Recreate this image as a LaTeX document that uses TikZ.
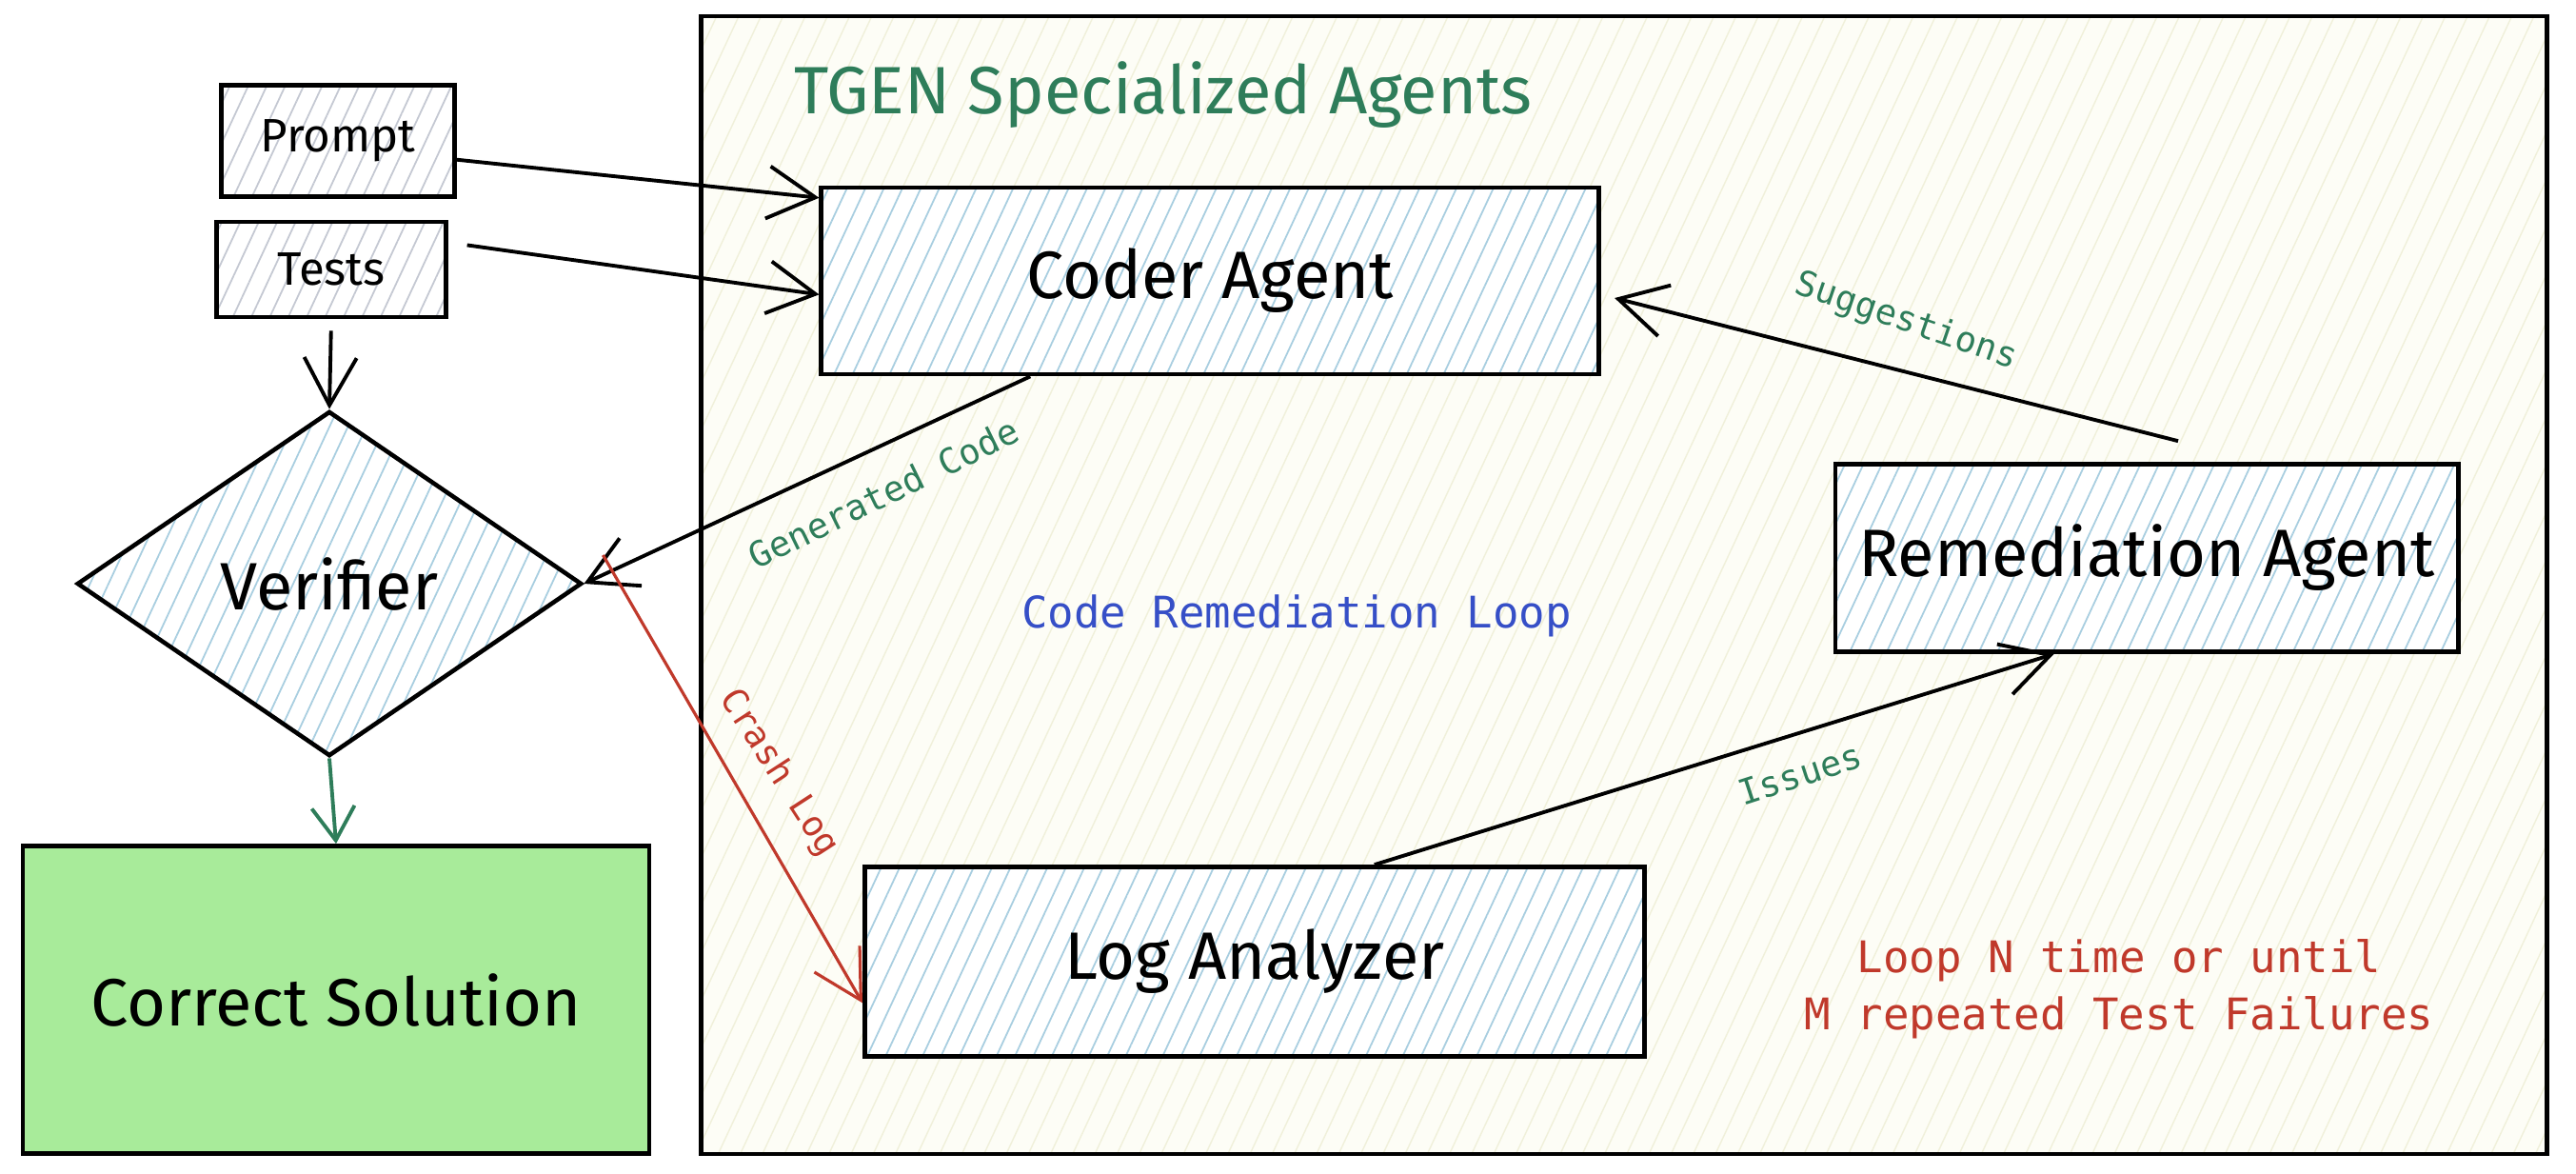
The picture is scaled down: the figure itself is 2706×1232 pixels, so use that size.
\documentclass[tikz,border=0pt]{standalone}
\usepackage{fontspec}
\setmainfont{Fira Sans}
\setmonofont{DejaVu Sans Mono}
\usetikzlibrary{shapes.geometric,arrows.meta,patterns.meta}
\definecolor{sketchgreen}{RGB}{46,125,90}
\definecolor{sketchred}{RGB}{192,57,43}
\definecolor{sketchblue}{RGB}{54,79,199}
\definecolor{hatchblue}{RGB}{168,206,224}
\definecolor{hatchgray}{RGB}{196,200,210}
\definecolor{hatchcream}{RGB}{240,240,218}
\definecolor{groupbg}{RGB}{253,253,246}
\definecolor{solutiongreen}{RGB}{168,235,154}
\begin{document}
\begin{tikzpicture}[x=0.01cm,y=-0.01cm,
    agent/.style={draw, line width=1.3pt, preaction={fill=white}, pattern={Lines[angle=65,distance=5pt,line width=0.5pt]}, pattern color=hatchblue, font=\fontsize{20}{24}\selectfont},
    input/.style={draw, line width=1.3pt, preaction={fill=white}, pattern={Lines[angle=65,distance=5pt,line width=0.5pt]}, pattern color=hatchgray, font=\fontsize{14}{17}\selectfont},
    link/.style={line width=1.1pt, -{Straight Barb[length=5mm,width=5.5mm]}},
    edgelabel/.style={font=\ttfamily\fontsize{10.5}{12}\selectfont, text=sketchgreen},
    note/.style={font=\ttfamily\fontsize{13}{17}\selectfont}]
    \useasboundingbox (0,0) rectangle (2706,1232);
    \node [draw, line width=1.2pt, preaction={fill=groupbg}, pattern={Lines[angle=65,distance=6pt,line width=0.4pt]}, pattern color=hatchcream, minimum width=19.38cm, minimum height=11.95cm] (group) at (1706,614.5) {};
    \node [font=\fontsize{20}{24}\selectfont, text=sketchgreen] (title) at (1222,100) {TGEN Specialized Agents};
    \node [input, minimum width=2.45cm, minimum height=1.17cm] (prompt) at (355,148) {Prompt};
    \node [input, minimum width=2.41cm, minimum height=1.0cm] (tests) at (348,283) {Tests};
    \node [agent, minimum width=8.16cm, minimum height=1.96cm] (coder) at (1271,295) {Coder Agent};
    \node [agent, diamond, aspect=1.5, inner sep=0pt, minimum width=5.3cm, minimum height=3.62cm] (verifier) at (346,613) {Verifier};
    \node [draw, line width=1.3pt, fill=solutiongreen, minimum width=6.58cm, minimum height=3.23cm, font=\fontsize{20}{24}\selectfont] (solution) at (353,1050) {Correct Solution};
    \node [agent, minimum width=6.54cm, minimum height=1.97cm] (remediation) at (2255,586) {Remediation Agent};
    \node [agent, minimum width=8.19cm, minimum height=1.99cm] (loganalyzer) at (1318,1010) {Log Analyzer};
    \node [note, text=sketchblue] (loop) at (1362,647) {Code Remediation Loop};
    \node [note, text=sketchred, align=center] (limit) at (2226,1039) {Loop N time or until\\M repeated Test Failures};
    \draw [link] (prompt.-9) -- (coder.168);
    \draw [link, shorten <=0.2cm] (tests.13) -- (coder.182);
    \draw [link, shorten <=0.12cm] (tests.south) -- (verifier.north);
    \draw [link] (coder.208) -- (verifier.east);
    \draw [link, sketchgreen, -{Straight Barb[length=3.5mm,width=4.5mm]}] (verifier.south) -- (solution.north);
    \draw [link, sketchred, line width=0.9pt] ([shift={(0.2cm,0.3cm)}]verifier.east) -- (loganalyzer.186);
    \draw [link] (loganalyzer.39) -- (remediation.226);
    \draw [link, shorten >=0.15cm] ([shift={(0.33cm,0.22cm)}]remediation.north) -- (coder.-2);
    \node [edgelabel, rotate=26] (gencode) at (928,518) {Generated Code};
    \node [edgelabel, rotate=-19] (suggestions) at (2002,338) {Suggestions};
    \node [edgelabel, rotate=18] (issues) at (1891,813) {Issues};
    \node [edgelabel, text=sketchred, rotate=-57] (crashlog) at (818,812) {Crash Log};
\end{tikzpicture}
\end{document}
